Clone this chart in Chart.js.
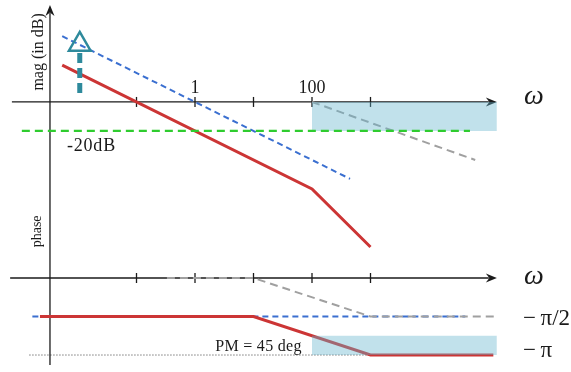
<!DOCTYPE html>
<html><head><meta charset="utf-8">
<script src="https://cdn.jsdelivr.net/npm/chart.js@4/dist/chart.umd.min.js"></script>
<style>html,body{margin:0;padding:0;background:#fff}canvas{display:block}</style>
</head><body>
<canvas id="c" width="571" height="372"></canvas>
<script>
// x axis: log10(omega) in decades; magnitude in dB; phase in degrees
const decadeTicks = [-1, 0, 1, 2, 3];
const tickLabelDecades = [0, 2];
const tickLabelTexts = ['1', '100'];

const magLoopW = [-2.27, 2, 3];
const magLoopDb = [25.4, -60, -100];
const magRefW = [-2.27, 2.65];
const magRefDb = [45.4, -53];
const magGrayW = [2, 4.79];
const magGrayDb = [0, -40];
const gainLineW = [-2.96, 4.7];
const gainLineDb = [-20, -20];
const markerW = [-1.97];
const markerDb = [39.7];
const markerStemW = [-1.97, -1.97];
const markerStemDb = [33.8, 6.2];
const magBoxW = [2, 5.16];
const magBoxDb = [0, -20];

const phaseLoopW = [-2.65, 1, 3, 5.1];
const phaseLoopDeg = [-90, -90, -180, -180];
const phaseRefW = [-2.78, 4.62];
const phaseRefDeg = [-90, -90];
const phaseGrayW = [-0.48, 1, 3, 5.15];
const phaseGrayDeg = [0, 0, -90, -90];
const pmLineW = [-2.83, 5.1];
const pmLineDeg = [-180, -180];
const pmBoxW = [2, 5.16];
const pmBoxDeg = [-135, -180];

const pts = (xs, ys) => xs.map((x, i) => ({x: x, y: ys[i]}));
const FONT = '"Liberation Serif", "DejaVu Serif", serif';
const INK = '#1a1a1a';

const line = (xs, ys, axis, color, width, dash, extra) => Object.assign({
  data: pts(xs, ys), yAxisID: axis, showLine: true, borderColor: color,
  borderWidth: width, borderDash: dash || [], pointRadius: 0, fill: false,
  tension: 0, clip: false, borderCapStyle: 'butt'
}, extra || {});

const boxDs = (xs, ys, axis) => ({
  data: pts(xs, [ys[0], ys[0]]), yAxisID: axis, showLine: true, borderWidth: 0,
  borderColor: 'rgba(0,0,0,0)', pointRadius: 0, fill: {value: ys[1]},
  backgroundColor: 'rgba(100,180,205,0.4)', clip: false
});

const axesPlugin = {
  id: 'bodeAxes',
  beforeDatasetsDraw(chart) {
    const ctx = chart.ctx, X = chart.scales.x, M = chart.scales.yMag, P = chart.scales.yPh;
    ctx.save();
    ctx.strokeStyle = INK; ctx.fillStyle = INK; ctx.lineWidth = 1.3;
    const arrowR = (x, y) => {
      ctx.beginPath(); ctx.moveTo(x, y); ctx.lineTo(x - 11, y - 4.5);
      ctx.lineTo(x - 7.5, y); ctx.lineTo(x - 11, y + 4.5); ctx.closePath(); ctx.fill();
    };
    const arrowU = (x, y) => {
      ctx.beginPath(); ctx.moveTo(x, y); ctx.lineTo(x - 4.5, y + 11);
      ctx.lineTo(x, y + 7.5); ctx.lineTo(x + 4.5, y + 11); ctx.closePath(); ctx.fill();
    };
    // magnitude omega axis
    const ym = M.getPixelForValue(0);
    const xe = X.getPixelForValue(5.16);
    ctx.beginPath(); ctx.moveTo(X.getPixelForValue(-3.13), ym); ctx.lineTo(xe - 8, ym); ctx.stroke();
    arrowR(xe, ym);
    // phase omega axis
    const yp = P.getPixelForValue(0);
    ctx.beginPath(); ctx.moveTo(X.getPixelForValue(-3.16), yp); ctx.lineTo(xe - 8, yp); ctx.stroke();
    arrowR(xe, yp);
    // ticks
    decadeTicks.forEach(d => {
      const x = X.getPixelForValue(d);
      ctx.beginPath(); ctx.moveTo(x, ym - 5); ctx.lineTo(x, ym + 5); ctx.stroke();
      ctx.beginPath(); ctx.moveTo(x, yp - 5); ctx.lineTo(x, yp + 5); ctx.stroke();
    });
    // vertical axis
    const xv = X.getPixelForValue(-2.479);
    const yt = M.getPixelForValue(66.9);
    ctx.beginPath(); ctx.moveTo(xv, P.getPixelForValue(-203.4)); ctx.lineTo(xv, yt + 8); ctx.stroke();
    arrowU(xv, yt);
    ctx.restore();
  },
  afterDraw(chart) {
    const ctx = chart.ctx, X = chart.scales.x, M = chart.scales.yMag, P = chart.scales.yPh;
    ctx.save();
    ctx.fillStyle = INK;
    ctx.textAlign = 'center'; ctx.textBaseline = 'middle';
    ctx.font = '18px ' + FONT;
    tickLabelDecades.forEach((d, i) => ctx.fillText(tickLabelTexts[i], X.getPixelForValue(d), M.getPixelForValue(9.7)));
    ctx.font = '18px ' + FONT;
    ctx.letterSpacing = '0.8px';
    ctx.fillText('-20dB', X.getPixelForValue(-1.77), M.getPixelForValue(-30.3));
    ctx.letterSpacing = '0.3px';
    ctx.font = '16px ' + FONT;
    ctx.fillText('PM = 45 deg', X.getPixelForValue(1.085), P.getPixelForValue(-161.3));
    ctx.letterSpacing = '0px';
    // rotated axis titles
    const rot = (t, x, y, size) => {
      ctx.save(); ctx.translate(x, y); ctx.rotate(-Math.PI / 2);
      ctx.font = size + 'px ' + FONT; ctx.fillText(t, 0, 0); ctx.restore();
    };
    rot('mag (in dB)', X.getPixelForValue(-2.667), M.getPixelForValue(34.5), 16);
    rot('phase', X.getPixelForValue(-2.70), P.getPixelForValue(109), 14);
    // omega labels
    ctx.textAlign = 'center'; ctx.textBaseline = 'alphabetic';
    ctx.font = 'italic 28px ' + FONT;
    ctx.fillText('ω', X.getPixelForValue(5.795), M.getPixelForValue(-1.4));
    ctx.fillText('ω', X.getPixelForValue(5.795), P.getPixelForValue(-14));
    ctx.textAlign = 'left';
    ctx.font = '23px ' + FONT;
    ctx.fillText('−\u2009π/2', X.getPixelForValue(5.607), P.getPixelForValue(-109.9));
    ctx.fillText('−\u2009π', X.getPixelForValue(5.607), P.getPixelForValue(-184.6));
    ctx.restore();
  }
};

new Chart(document.getElementById('c'), {
  type: 'scatter',
  data: {
    datasets: [
      line(gainLineW, gainLineDb, 'yMag', '#2fcc2f', 2.2, [8, 5]),
      line(markerW, markerDb, 'yMag', '#2e8a9c', 0, [], {pointRadius: 12.5, pointStyle: 'triangle', pointBorderWidth: 2.5, pointBorderColor: '#2e8a9c', pointBackgroundColor: 'rgba(255,255,255,0)', showLine: false}),
      line(markerStemW, markerStemDb, 'yMag', '#2e8a9c', 5, [10, 5]),
      boxDs(magBoxW, magBoxDb, 'yMag'),
      boxDs(pmBoxW, pmBoxDeg, 'yPh'),
      line(magLoopW, magLoopDb, 'yMag', '#cc3535', 3),
      line(phaseLoopW, phaseLoopDeg, 'yPh', '#cc3535', 3),
      line(magGrayW, magGrayDb, 'yMag', '#a0a0a0', 2, [8, 5]),
      line(phaseGrayW, phaseGrayDeg, 'yPh', '#a0a0a0', 2, [8, 5]),
      line(magRefW, magRefDb, 'yMag', '#3a6fd0', 2, [6, 4]),
      line(phaseRefW, phaseRefDeg, 'yPh', '#3a6fd0', 2, [6, 4]),
      line(pmLineW, pmLineDeg, 'yPh', '#222222', 0.9, [1, 2])
    ]
  },
  options: {
    responsive: false, animation: false, events: [],
    layout: {padding: 0, autoPadding: false},
    plugins: {legend: {display: false}, tooltip: {enabled: false}},
    scales: {
      x: {type: 'linear', display: false, min: -195 / 58.5, max: 376 / 58.5},
      yMag: {type: 'linear', display: false, min: -186.2, max: 70.3},
      yPh: {type: 'linear', display: false, min: -219.7, max: 649.9}
    }
  },
  plugins: [axesPlugin]
});
</script>
</body></html>
